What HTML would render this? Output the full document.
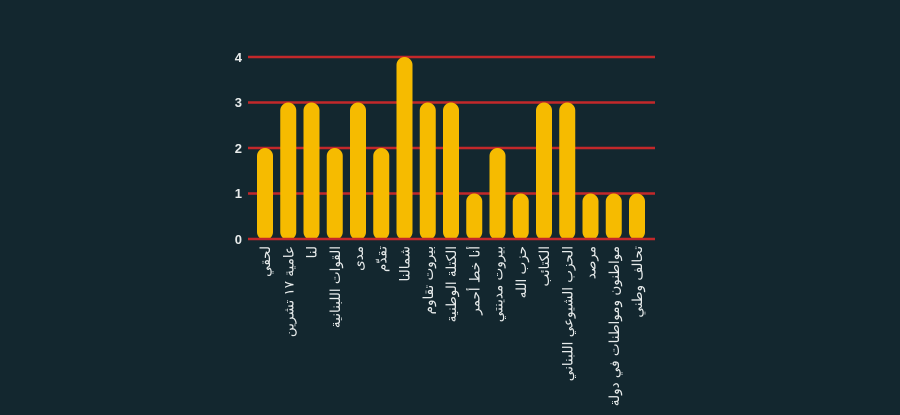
<!DOCTYPE html>
<html><head><meta charset="utf-8"><style>
html,body{margin:0;padding:0;background:#13272f;}
svg{display:block}
</style></head><body>
<svg width="900" height="415" viewBox="0 0 900 415" xmlns="http://www.w3.org/2000/svg">
<rect width="900" height="415" fill="#13272f"/>
<g stroke="#c3282a" stroke-width="2.5">
<line x1="248" x2="655" y1="57" y2="57"/>
<line x1="248" x2="655" y1="102.5" y2="102.5"/>
<line x1="248" x2="655" y1="148" y2="148"/>
<line x1="248" x2="655" y1="193.5" y2="193.5"/>
</g>
<g font-family="Liberation Sans, DejaVu Sans, sans-serif" font-size="13" font-weight="bold" fill="#e8ecec" text-anchor="end">
<text x="242" y="62">4</text><text x="242" y="107">3</text><text x="242" y="153">2</text><text x="242" y="198">1</text><text x="242" y="244">0</text>
</g>
<g fill="#f6bb00">
<rect x="257" y="148" width="16" height="92" rx="8"/>
<rect x="280.25" y="102.5" width="16" height="137.5" rx="8"/>
<rect x="303.5" y="102.5" width="16" height="137.5" rx="8"/>
<rect x="326.75" y="148" width="16" height="92" rx="8"/>
<rect x="350" y="102.5" width="16" height="137.5" rx="8"/>
<rect x="373.25" y="148" width="16" height="92" rx="8"/>
<rect x="396.5" y="57" width="16" height="183" rx="8"/>
<rect x="419.75" y="102.5" width="16" height="137.5" rx="8"/>
<rect x="443" y="102.5" width="16" height="137.5" rx="8"/>
<rect x="466.25" y="193.5" width="16" height="46.5" rx="8"/>
<rect x="489.5" y="148" width="16" height="92" rx="8"/>
<rect x="512.75" y="193.5" width="16" height="46.5" rx="8"/>
<rect x="536" y="102.5" width="16" height="137.5" rx="8"/>
<rect x="559.25" y="102.5" width="16" height="137.5" rx="8"/>
<rect x="582.5" y="193.5" width="16" height="46.5" rx="8"/>
<rect x="605.75" y="193.5" width="16" height="46.5" rx="8"/>
<rect x="629" y="193.5" width="16" height="46.5" rx="8"/>
</g>
<line x1="248" x2="655" y1="239" y2="239" stroke="#c3282a" stroke-width="2.5"/>
<g font-family="DejaVu Sans, sans-serif" font-size="13.5" fill="#e8ecec" text-anchor="end">
<text transform="translate(270,246) rotate(-90)">لحقي</text>
<text transform="translate(293.25,246) rotate(-90)">عامية ١٧ تشرين</text>
<text transform="translate(316.5,246) rotate(-90)">لنا</text>
<text transform="translate(339.75,246) rotate(-90)">القوات اللبنانية</text>
<text transform="translate(363,246) rotate(-90)">مدى</text>
<text transform="translate(386.25,246) rotate(-90)">تقدّم</text>
<text transform="translate(409.5,246) rotate(-90)">شمالنا</text>
<text transform="translate(432.75,246) rotate(-90)">بيروت تقاوم</text>
<text transform="translate(456,246) rotate(-90)">الكتلة الوطنية</text>
<text transform="translate(479.25,246) rotate(-90)">أنا خط أحمر</text>
<text transform="translate(502.5,246) rotate(-90)">بيروت مدينتي</text>
<text transform="translate(525.75,246) rotate(-90)">حزب الله</text>
<text transform="translate(549,246) rotate(-90)">الكتائب</text>
<text transform="translate(572.25,246) rotate(-90)">الحزب الشيوعي اللبناني</text>
<text transform="translate(595.5,246) rotate(-90)">مرصد</text>
<text transform="translate(618.75,246) rotate(-90)">مواطنون ومواطنات في دولة</text>
<text transform="translate(642,246) rotate(-90)">تحالف وطني</text>
</g>
</svg>
</body></html>
